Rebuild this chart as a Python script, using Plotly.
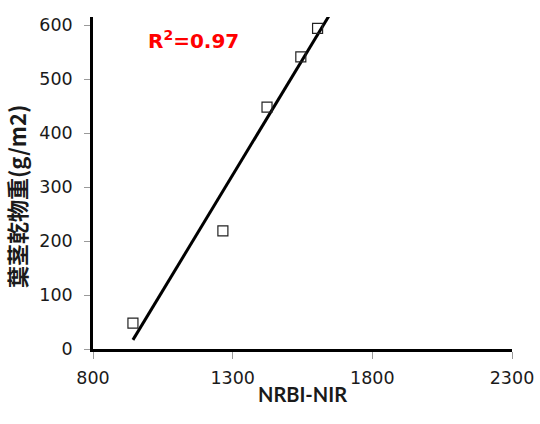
import numpy as np
import plotly.graph_objects as go

# Data
nrbi_nir = [943, 1265, 1423, 1544, 1604]
dry_weight = [48, 219, 448, 541, 594]
x_ticks = [800, 1300, 1800, 2300]
y_ticks = [0, 100, 200, 300, 400, 500, 600]
r2_label = "R<sup>2</sup>=0.97"
x_title = "NRBI-NIR"
y_title = "葉茎乾物重(g/m2)"

# Linear trendline fitted to the data
slope, intercept = np.polyfit(nrbi_nir, dry_weight, 1)
trend_x = np.array([min(nrbi_nir), 1660])
trend_y = slope * trend_x + intercept

fig = go.Figure()
fig.add_trace(go.Scatter(
    x=trend_x, y=trend_y, mode="lines",
    line=dict(color="black", width=3), showlegend=False, hoverinfo="skip",
))
fig.add_trace(go.Scatter(
    x=nrbi_nir, y=dry_weight, mode="markers",
    marker=dict(symbol="square-open", size=10, color="#222222", line=dict(width=1.2, color="#222222")),
    showlegend=False, cliponaxis=False,
))

tick_font = dict(family="DejaVu Sans", size=17.5, color="#1a1a1a")

fig.update_layout(
    width=540, height=424,
    margin=dict(l=93, r=28, t=17, b=75),
    paper_bgcolor="white", plot_bgcolor="white",
    xaxis=dict(
        range=[800, 2300], tickvals=x_ticks, ticktext=[str(v) for v in x_ticks],
        showgrid=False, zeroline=False, automargin=False,
        showline=True, linecolor="black", linewidth=2.5,
        ticks="outside", ticklen=7, tickwidth=1, tickcolor="#9a9a9a",
        tickfont=tick_font, ticklabelstandoff=4,
        title=dict(text=x_title, font=dict(family="Lato", size=20, color="#1a1a1a", weight="bold"), standoff=2),
    ),
    yaxis=dict(
        range=[0, 615], tickvals=y_ticks, ticktext=[str(v) for v in y_ticks],
        showgrid=False, zeroline=False, automargin=False,
        showline=True, linecolor="black", linewidth=2.5,
        ticks="outside", ticklen=6, tickwidth=1, tickcolor="#9a9a9a",
        tickfont=tick_font, ticklabelstandoff=8,
    ),
    annotations=[
        dict(text=r2_label, xref="paper", yref="paper", x=0.241, y=0.931,
             xanchor="center", yanchor="middle", showarrow=False,
             font=dict(family="DejaVu Sans", size=20, color="#ff0000", weight="bold")),
        dict(text=y_title, xref="paper", yref="paper", x=-0.182, y=0.46,
             xanchor="center", yanchor="middle", showarrow=False, textangle=-90,
             font=dict(family="Noto Sans CJK JP", size=22, color="#1a1a1a", weight="bold")),
    ],
)

fig.write_html(
    "out.html",
    config={"displayModeBar": False},
    post_script="document.body.style.margin='0';document.body.style.overflow='hidden';",
)
